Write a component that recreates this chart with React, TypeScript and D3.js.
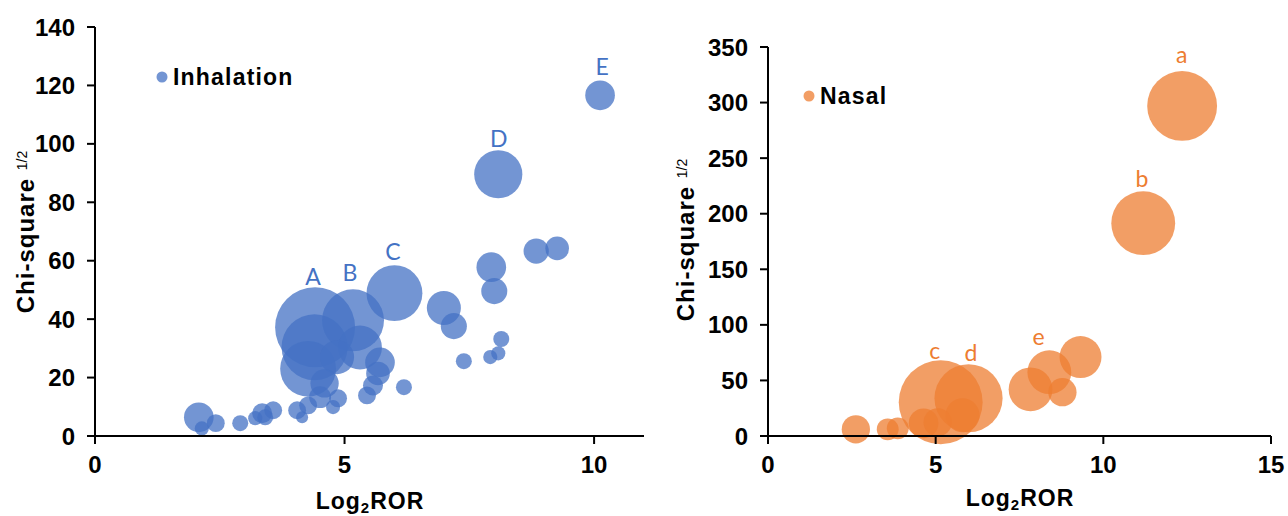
// App.tsx
import React from 'react';
import * as d3 from 'd3';

// Inhalation panel: [Log2ROR, Chi-square^1/2, bubble size]
const inhalX = [10.12, 8.08, 6.0, 5.17, 4.41, 4.4, 4.27, 5.31, 4.85, 4.6, 5.71, 5.67, 5.57, 5.45, 6.19, 4.87, 4.77, 4.51, 4.27, 4.05, 4.15, 3.57, 3.41, 3.21, 3.35, 2.91, 2.08, 2.42, 2.14, 8.84, 9.26, 7.94, 8.0, 6.99, 7.19, 8.14, 8.08, 7.92, 7.39];
const inhalY = [116.6, 89.6, 48.9, 39.6, 37.2, 30.4, 23.0, 30.3, 27.0, 18.0, 25.2, 21.4, 17.3, 13.9, 16.7, 12.9, 9.9, 13.3, 10.5, 8.8, 6.4, 8.8, 6.4, 6.1, 7.8, 4.4, 6.4, 4.4, 2.6, 63.3, 64.2, 57.8, 49.6, 43.8, 37.6, 33.2, 28.3, 27.0, 25.6];
const inhalSize = [22, 58, 78, 96, 160, 109, 78, 48, 29, 20, 22, 14, 10, 8, 6.4, 8, 5, 12, 8, 8, 3.6, 8, 6.4, 5, 10, 6.4, 22, 8, 5, 16, 14, 22, 17, 29, 17, 6.4, 5, 5, 6.4];
const inhalLabels = ['A', 'B', 'C', 'D', 'E'];
const inhalLabelX = [4.37, 5.11, 5.97, 8.09, 10.16];
const inhalLabelY = [51.6, 53.0, 60.2, 98.9, 123.5];

// Nasal panel
const nasalX = [12.35, 11.19, 5.15, 5.98, 7.83, 8.39, 9.32, 8.78, 2.62, 3.57, 3.87, 4.64, 5.06, 5.8];
const nasalY = [297, 191.5, 30.4, 34, 42, 57.4, 71, 39.4, 6, 6, 6.9, 11.4, 12.3, 18.6];
const nasalSize = [122, 102, 176, 116, 48, 48, 44, 20, 20, 12, 12, 22, 20, 29];
const nasalLabels = ['a', 'b', 'c', 'd', 'e'];
const nasalLabelX = [12.34, 11.15, 4.97, 6.05, 8.07];
const nasalLabelY = [336, 224, 69.4, 67.6, 81.6];

const inhalXTicks = [0, 5, 10];
const inhalYTicks = [0, 20, 40, 60, 80, 100, 120, 140];
const nasalXTicks = [0, 5, 10, 15];
const nasalYTicks = [0, 50, 100, 150, 200, 250, 300, 350];

const FONT = 'Liberation Sans, Arial, sans-serif';
const rScale = d3.scaleSqrt().domain([0, 160]).range([0, 40]);

type PanelProps = {
  xs: number[]; ys: number[]; sizes: number[];
  labels: string[]; labelX: number[]; labelY: number[];
  xDomain: [number, number]; yDomain: [number, number];
  xRange: [number, number]; yRange: [number, number];
  xTicks: number[]; yTicks: number[];
  fill: string; textColor: string; name: string;
  legendX: number; legendY: number;
  yTitleX: number; yTitleY: number; xTitleX: number; xTitleY: number;
};

const Panel = (p: PanelProps) => {
  const x = d3.scaleLinear().domain(p.xDomain).range(p.xRange);
  const y = d3.scaleLinear().domain(p.yDomain).range(p.yRange);
  const x0 = p.xRange[0];
  const y0 = p.yRange[0];
  const pts = p.xs.map((v, i) => ({ x: v, y: p.ys[i], s: p.sizes[i] }))
    .sort((a, b) => b.s - a.s);
  return (
    <g>
      {pts.map((d, i) => (
        <circle key={i} cx={x(d.x)} cy={y(d.y)} r={rScale(d.s)} fill={p.fill} fillOpacity={0.75} />
      ))}
      {/* axes */}
      <line x1={x0} x2={x0} y1={p.yRange[1]} y2={y0} stroke="#000" strokeWidth={2} />
      <line x1={x0} x2={p.xRange[1]} y1={y0} y2={y0} stroke="#000" strokeWidth={2} />
      {p.yTicks.map(t => (
        <g key={'y' + t}>
          <line x1={x0 - 8} x2={x0} y1={y(t)} y2={y(t)} stroke="#000" strokeWidth={2} />
          <text x={x0 - 20} y={y(t)} dy="0.36em" textAnchor="end" fontFamily={FONT}
            fontWeight="bold" fontSize={24}>{t}</text>
        </g>
      ))}
      {p.xTicks.map(t => (
        <g key={'x' + t}>
          <line x1={x(t)} x2={x(t)} y1={y0} y2={y0 + 8} stroke="#000" strokeWidth={2} />
          <text x={x(t)} y={y0 + 37} textAnchor="middle" fontFamily={FONT}
            fontWeight="bold" fontSize={24}>{t}</text>
        </g>
      ))}
      {/* point labels */}
      {p.labels.map((l, i) => (
        <text key={l} x={x(p.labelX[i])} y={y(p.labelY[i])} textAnchor="middle"
          fontFamily="Lato, Open Sans, sans-serif" fontSize={23} fill={p.textColor}>{l}</text>
      ))}
      {/* legend */}
      <circle cx={p.legendX} cy={p.legendY} r={5.5} fill={p.fill} fillOpacity={0.75} />
      <text x={p.legendX + 11} y={p.legendY} dy="0.36em" fontFamily={FONT} fontWeight="bold"
        fontSize={23} letterSpacing={1.2}>{p.name}</text>
      {/* titles */}
      <text transform={`translate(${p.yTitleX},${p.yTitleY}) rotate(-90)`} textAnchor="middle"
        fontFamily={FONT} fontWeight="bold" fontSize={24} letterSpacing={1} dy="0.35em">
        Chi-square <tspan fontSize={14} fontWeight="normal" dy={-7} letterSpacing={0}>1/2</tspan>
      </text>
      <text x={p.xTitleX} y={p.xTitleY} textAnchor="middle" fontFamily={FONT} fontWeight="bold"
        fontSize={23} letterSpacing={1}>
        Log<tspan fontSize={15} dy={4}>2</tspan><tspan dy={-4}>ROR</tspan>
      </text>
    </g>
  );
};

export default function App() {
  return (
    <svg width={1288} height={516} style={{ position: 'absolute', left: 0, top: 0, background: '#fff' }}>
      <Panel xs={inhalX} ys={inhalY} sizes={inhalSize} labels={inhalLabels}
        labelX={inhalLabelX} labelY={inhalLabelY}
        xDomain={[0, 11]} yDomain={[0, 140]} xRange={[95, 644]} yRange={[436, 27]}
        xTicks={inhalXTicks} yTicks={inhalYTicks} fill="#4472C4" textColor="#4472C4"
        name="Inhalation" legendX={162} legendY={77}
        yTitleX={26} yTitleY={232} xTitleX={370} xTitleY={509} />
      <Panel xs={nasalX} ys={nasalY} sizes={nasalSize} labels={nasalLabels}
        labelX={nasalLabelX} labelY={nasalLabelY}
        xDomain={[0, 15]} yDomain={[0, 350]} xRange={[768, 1271]} yRange={[436, 47]}
        xTicks={nasalXTicks} yTicks={nasalYTicks} fill="#ED7D31" textColor="#ED7D31"
        name="Nasal" legendX={809} legendY={96}
        yTitleX={686} yTitleY={240} xTitleX={1020} xTitleY={506} />
    </svg>
  );
}
